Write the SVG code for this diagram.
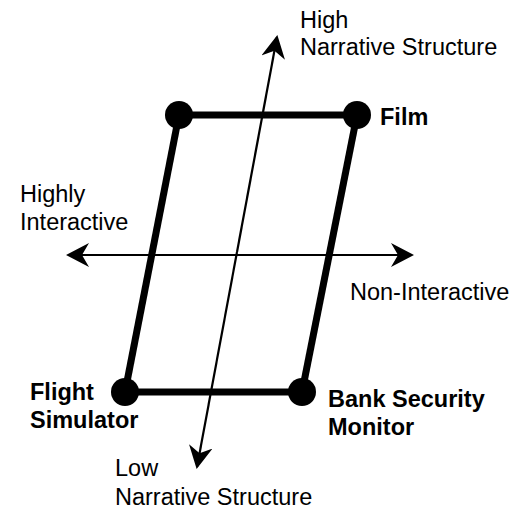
<svg xmlns="http://www.w3.org/2000/svg" width="519" height="509" viewBox="0 0 519 509">
<style>
text{font-family:"Liberation Sans",Arial,sans-serif;font-size:23.5px;fill:#000}
.b{font-weight:bold}
.edge{stroke:#000;stroke-width:7;fill:none}
.axis{stroke:#000;stroke-width:2.2;fill:none}
</style>
<defs>
<marker id="ah" viewBox="0 0 23 24" refX="21" refY="12" markerWidth="23" markerHeight="24" markerUnits="userSpaceOnUse" orient="auto">
<path d="M0,0 L23,12 L0,24 L7,12 Z" fill="#000"/>
</marker>
</defs>
<rect width="519" height="509" fill="#fff"/>
<g id="connectors">
<line class="edge" x1="179" y1="115" x2="357" y2="115"/>
<line class="edge" x1="125" y1="392" x2="302" y2="392"/>
<line class="edge" x1="179" y1="115" x2="125" y2="392"/>
<line class="edge" x1="357" y1="115" x2="302" y2="392"/>
<line class="axis" x1="237" y1="252" x2="277" y2="37" marker-end="url(#ah)"/>
<line class="axis" x1="237" y1="252" x2="197" y2="467" marker-end="url(#ah)"/>
<line class="axis" x1="240" y1="255" x2="68" y2="255" marker-end="url(#ah)"/>
<line class="axis" x1="240" y1="255" x2="412" y2="255" marker-end="url(#ah)"/>
</g>
<g id="film"><circle cx="357" cy="115" r="14"/><text class="b" x="380" y="125">Film</text></g>
<g id="top-left"><circle cx="179" cy="115" r="14"/></g>
<g id="flight-simulator"><circle cx="125" cy="392" r="14"/><text class="b" x="30" y="400">Flight</text><text class="b" x="30" y="428">Simulator</text></g>
<g id="bank-security-monitor"><circle cx="302" cy="392" r="14"/><text class="b" x="328" y="407">Bank Security</text><text class="b" x="328" y="435">Monitor</text></g>
<g id="high-narrative"><text x="300" y="28">High</text><text x="300" y="55">Narrative Structure</text></g>
<g id="low-narrative"><text x="115" y="476">Low</text><text x="115" y="505">Narrative Structure</text></g>
<g id="highly-interactive"><text x="20" y="202">Highly</text><text x="20" y="230">Interactive</text></g>
<g id="non-interactive"><text x="350" y="300">Non-Interactive</text></g>
</svg>
